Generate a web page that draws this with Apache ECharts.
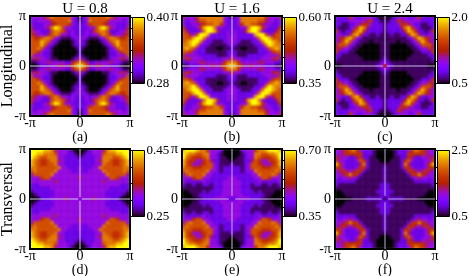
<!DOCTYPE html>
<html><head><meta charset="utf-8">
<style>html,body{margin:0;padding:0;background:#fff}#c{width:469px;height:276px}
#c canvas[data-zr-dom-id="zr_1"]{filter:blur(1.1px);clip-path:path('M30 16h100v100h-100zM182 16h100v100h-100zM335 16h100v100h-100zM30 149h100v100h-100zM182 149h100v100h-100zM335 149h100v100h-100z')}
</style>
<script src="https://cdn.jsdelivr.net/npm/echarts@6/dist/echarts.min.js"></script>
</head><body><div id="c"></div>
<script>
// Upper-left quadrant of each panel (0 = bar bottom, 9 = bar top).
// Each panel is mirrored about kx = 0 and ky = 0.
const quadA=["333346766666320","323333566667321","322233456665322","422234798633222","533222677642322","543324676332322","655677632111232","666876321000123","666863210000122","667632100000012","665322100000002","633322100000012","344332110000124","112334333322467","001222334434689"];
const quadB=["433357777777321","323346677777322","322334566775322","522235899733222","642223799842232","664369983222232","666899732222233","678997322111233","778973221111123","787632211100112","665322211111122","533332222211123","354333222222335","223334433333577","112223334435689"];
const quadC=["222253223332101","222233333452211","221122345532221","211123587422221","521225785222221","332247852211211","345786321111111","346863211101111","466632110000011","453321100000011","522211000000011","221111100000011","211111110000012","111111111111123","001111111111235"];
const quadD=["999988743332100","998877763332210","987667773322221","876556774322222","876556673322222","776666667332223","676666673333223","366666733333333","333566333333334","333333343333333","222333333333333","222222333333333","122222233333333","012222233333333","000222333343333"];
const quadE=["899987753332000","987766773321000","976555673321100","865533564221110","865334566321112","766555666321222","676666673321222","367666733222222","333566332222233","322222322222333","211211221222333","111111111222333","001111212222333","000112222223333","000011222333322"];
const quadF=["334567532221000","334555552221000","443322452211000","533222365211100","853222247211111","553222355211112","345434552111112","334575521111112","323343211111112","222222111111112","211111111111122","111111111111122","001111111111222","000111111111122","000001111222221"];
const quadrants=[quadA,quadB,quadC,quadD,quadE,quadF];
const levelFractions=[0,0.06,0.18,0.33,0.44,0.56,0.67,0.78,0.89,1];
const panelTitles=["U = 0.8","U = 1.6","U = 2.4"];
const captions=["(a)","(b)","(c)","(d)","(e)","(f)"];
const rowNames=["Longitudinal","","","Transversal","",""];
const barLow=[0.28,0.35,0.5,0.25,0.35,0.5];
const barHigh=[0.40,0.60,2.0,0.45,0.70,2.5];
const barStep=[0.02,0.05,0.5,0.05,0.05,0.5];
const barDigits=[2,2,1,2,2,1];
const lineColors=["#d8d8e8","#d8c8f0","#c8b8e8","#d0c8e8","#c8b0e0","#b8a8d0"];
const lineGap=[0,0,0.12,0.12,0.2,0.2];
const PI=Math.PI;
const gridLeft=[30,182,335,30,182,335], gridTop=[16,16,16,149,149,149];
const hex=v=>Math.round(255*Math.max(0,Math.min(1,v))).toString(16).padStart(2,'0');
const ramp=[];for(let i=0;i<=32;i++){const x=i/32;ramp.push('#'+hex(Math.sqrt(x))+hex(x*x*x)+hex(Math.sin(2*PI*x)));}
const font='"Liberation Serif"';
const chart=echarts.init(document.getElementById('c'),null,{renderer:'canvas'});
const grid=[],xAxis=[],yAxis=[],series=[],visualMap=[],title=[];
quadrants.forEach((q,p)=>{
  const lo=barLow[p],hi=barHigh[p];
  const full=q.concat(q.slice(0,-1).reverse()).map(r=>(r+r.slice(0,-1).split('').reverse().join('')));
  const n=full.length,cells=[];
  full.forEach((r,j)=>r.split('').forEach((d,i)=>cells.push([i,j,+(lo+(hi-lo)*levelFractions[+d]).toFixed(3)])));
  const idx=Array.from({length:n},(_,i)=>i);
  const g0=grid.length;
  grid.push({left:gridLeft[p],top:gridTop[p],width:100,height:100,outerBoundsMode:'none',containLabel:false,show:true,zlevel:2,backgroundColor:'transparent',borderColor:'#000',borderWidth:2});
  grid.push({left:gridLeft[p]+102.5,top:gridTop[p]+1.5,width:12,height:66,outerBoundsMode:'none',containLabel:false,show:true,borderColor:'#000',borderWidth:1,
    backgroundColor:new echarts.graphic.LinearGradient(0,1,0,0,ramp.map((c,i)=>({offset:i/32,color:c})))});
  const a=xAxis.length;
  xAxis.push({gridIndex:g0,type:'category',data:idx,show:false});
  yAxis.push({gridIndex:g0,type:'category',data:idx,show:false,inverse:true});
  const lab={color:'#000',fontFamily:font,fontSize:14,formatter:v=>v<-1?'-π':v>1?'π':'0'};
  xAxis.push({gridIndex:g0,type:'value',min:-PI,max:PI,interval:PI,position:'bottom',splitLine:{show:false},axisLine:{show:false},axisTick:{show:false},
    axisLabel:{...lab,margin:0,showMinLabel:true,showMaxLabel:true,hideOverlap:false},
    name:captions[p],nameMoveOverlap:false,nameLocation:'middle',nameGap:14,nameTextStyle:{color:'#000',fontFamily:font,fontSize:14}});
  yAxis.push({gridIndex:g0,type:'value',min:-PI,max:PI,interval:PI,position:'left',splitLine:{show:false},axisLine:{show:false},axisTick:{show:false},
    axisLabel:{...lab,margin:4,showMinLabel:true,showMaxLabel:true,hideOverlap:false},
    name:rowNames[p],nameMoveOverlap:false,nameLocation:'middle',nameGap:14,nameRotate:90,nameTextStyle:{color:'#000',fontFamily:font,fontSize:16}});
  xAxis.push({gridIndex:g0+1,type:'value',min:0,max:1,show:false});
  yAxis.push({gridIndex:g0+1,type:'value',min:lo,max:hi,interval:barStep[p],position:'right',splitLine:{show:false},axisLine:{show:false},
    axisTick:{show:true,inside:true,length:4,lineStyle:{color:'#000',width:1}},
    axisLabel:{color:'#000',fontFamily:font,fontSize:13,margin:2,showMinLabel:true,showMaxLabel:true,hideOverlap:false,
      formatter:v=>(Math.abs(v-lo)<1e-6||Math.abs(v-hi)<1e-6)?v.toFixed(barDigits[p]):''}});
  series.push({type:'heatmap',zlevel:1,xAxisIndex:a,yAxisIndex:a,data:cells,progressive:0,animation:false,itemStyle:{borderWidth:0},emphasis:{disabled:true}});
  const s=series.length-1;
  visualMap.push({type:'continuous',show:false,seriesIndex:s,min:lo,max:hi,inRange:{color:ramp}});
  const g=lineGap[p];
  const cross=[[-PI,0],[-g,0],['-','-'],[g,0],[PI,0],['-','-'],[0,-PI],[0,-g],['-','-'],[0,g],[0,PI]];
  series.push({type:'line',zlevel:2,xAxisIndex:a+1,yAxisIndex:a+1,data:cross,symbol:'none',silent:true,z:5,animation:false,lineStyle:{color:lineColors[p],width:1}});
  if(p<3) title.push({text:panelTitles[p],left:gridLeft[p]+50,top:-3,textAlign:'center',textStyle:{color:'#000',fontFamily:font,fontSize:15,fontWeight:'normal'}});
});
chart.setOption({animation:false,backgroundColor:'#fff',title,grid,xAxis,yAxis,visualMap,series});
</script></body></html>
